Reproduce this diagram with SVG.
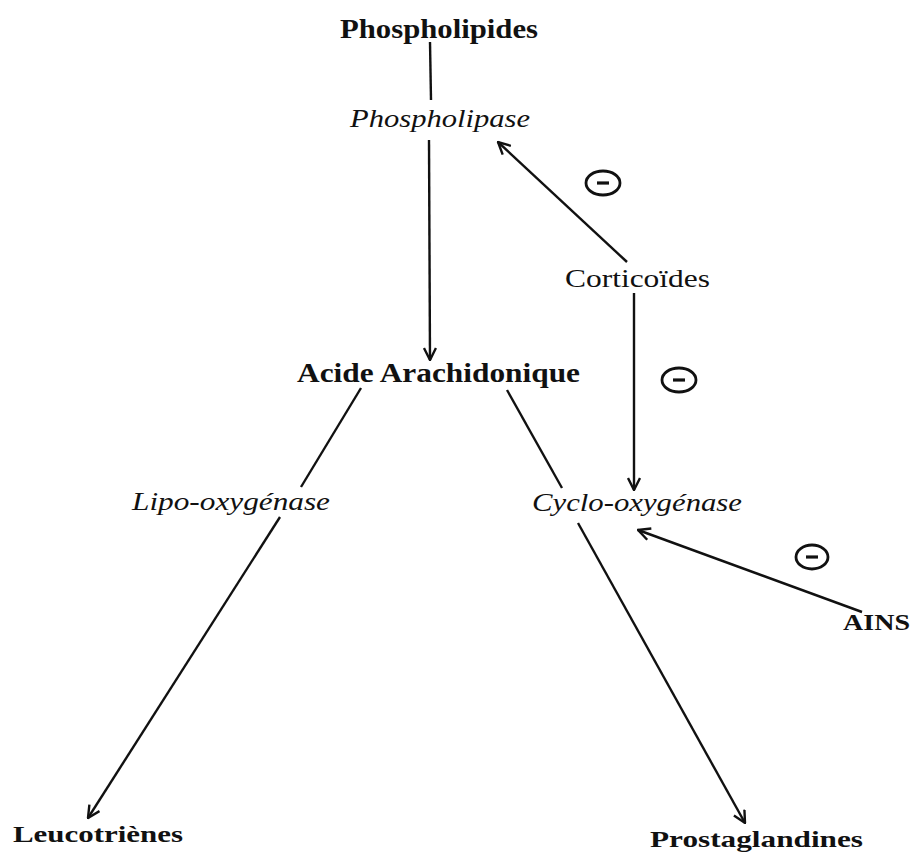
<svg xmlns="http://www.w3.org/2000/svg" width="914" height="852" viewBox="0 0 914 852">
<style>
.t{font-family:"Liberation Serif","Times New Roman",serif;fill:#111;}
.b{font-weight:bold;}
.i{font-style:italic;}
.c line{stroke:#111;stroke-width:2.4;fill:none;}
.m ellipse{fill:none;stroke:#111;stroke-width:2.8;}
.m line{stroke:#111;stroke-width:3.2;}
</style>
<defs>
<marker id="ah" viewBox="0 0 14 14" refX="13" refY="7" markerWidth="14" markerHeight="14" markerUnits="userSpaceOnUse" orient="auto">
<path d="M1,1 L13,7 L1,13" fill="none" stroke="#111" stroke-width="2.4"/>
</marker>
</defs>
<rect width="914" height="852" fill="#fff"/>
<g id="connectors" class="c">
<line x1="430" y1="42" x2="431" y2="100"/>
<line x1="429" y1="140" x2="430" y2="360" marker-end="url(#ah)"/>
<line x1="627" y1="262" x2="498" y2="142" marker-end="url(#ah)"/>
<line x1="634" y1="293" x2="634" y2="490" marker-end="url(#ah)"/>
<line x1="361" y1="388" x2="301" y2="487"/>
<line x1="507" y1="390" x2="562" y2="488"/>
<line x1="280" y1="517" x2="88" y2="818" marker-end="url(#ah)"/>
<line x1="578" y1="523" x2="745" y2="823" marker-end="url(#ah)"/>
<line x1="862" y1="612" x2="638" y2="530" marker-end="url(#ah)"/>
</g>
<g id="inhib1" class="m"><ellipse cx="603" cy="183" rx="17" ry="12"/><line x1="597" y1="183" x2="609" y2="183"/></g>
<g id="inhib2" class="m"><ellipse cx="679" cy="380" rx="17" ry="12"/><line x1="673" y1="380" x2="685" y2="380"/></g>
<g id="inhib3" class="m"><ellipse cx="812" cy="557" rx="16" ry="12"/><line x1="806" y1="557" x2="818" y2="557"/></g>
<g id="phospholipides"><text class="t b" x="340" y="38" font-size="27" textLength="198" lengthAdjust="spacingAndGlyphs">Phospholipides</text></g>
<g id="phospholipase"><text class="t i" x="350" y="127" font-size="25" textLength="180" lengthAdjust="spacingAndGlyphs">Phospholipase</text></g>
<g id="corticoides"><text class="t" x="565" y="287" font-size="26" textLength="145" lengthAdjust="spacingAndGlyphs">Corticoïdes</text></g>
<g id="acide"><text class="t b" x="297" y="382" font-size="27" textLength="283" lengthAdjust="spacingAndGlyphs">Acide Arachidonique</text></g>
<g id="lipo"><text class="t i" x="132" y="510" font-size="25" textLength="198" lengthAdjust="spacingAndGlyphs">Lipo-oxygénase</text></g>
<g id="cyclo"><text class="t i" x="532" y="511" font-size="25" textLength="210" lengthAdjust="spacingAndGlyphs">Cyclo-oxygénase</text></g>
<g id="ains"><text class="t b" x="843" y="630" font-size="24" textLength="67" lengthAdjust="spacingAndGlyphs">AINS</text></g>
<g id="leucotrienes"><text class="t b" x="13" y="842" font-size="24" textLength="170" lengthAdjust="spacingAndGlyphs">Leucotriènes</text></g>
<g id="prostaglandines"><text class="t b" x="650" y="847" font-size="24" textLength="213" lengthAdjust="spacingAndGlyphs">Prostaglandines</text></g>
</svg>
